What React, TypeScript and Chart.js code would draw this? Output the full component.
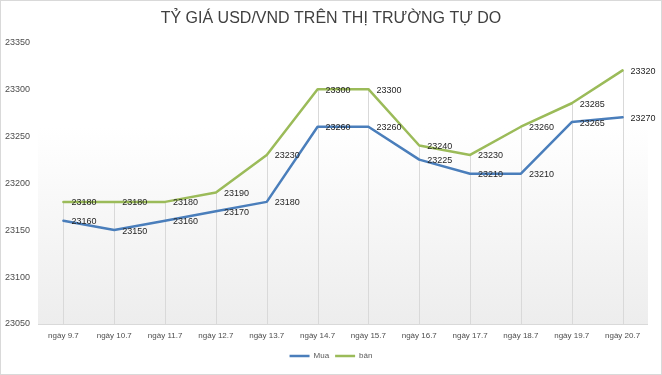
import React, { useEffect, useRef } from "react";
import { Chart, registerables } from "chart.js";

Chart.register(...registerables);

const titleText = "TỶ GIÁ USD/VND TRÊN THỊ TRƯỜNG TỰ DO";
const categories = [
  "ngày 9.7",
  "ngày 10.7",
  "ngày 11.7",
  "ngày 12.7",
  "ngày 13.7",
  "ngày 14.7",
  "ngày 15.7",
  "ngày 16.7",
  "ngày 17.7",
  "ngày 18.7",
  "ngày 19.7",
  "ngày 20.7",
];
const muaValues = [23160, 23150, 23160, 23170, 23180, 23260, 23260, 23225, 23210, 23210, 23265, 23270];
const banValues = [23180, 23180, 23180, 23190, 23230, 23300, 23300, 23240, 23230, 23260, 23285, 23320];
const yMin = 23050;
const yMax = 23350;
const yStep = 50;

const FONT = "'Liberation Sans', Arial, sans-serif";

const plotBgPlugin = {
  id: "plotBg",
  beforeDraw(chart: any) {
    const { ctx, chartArea } = chart;
    const { left, top, right, bottom } = chartArea;
    const g = ctx.createLinearGradient(0, top, 0, bottom);
    g.addColorStop(0, "#ffffff");
    g.addColorStop(0.3, "#ffffff");
    g.addColorStop(1, "#ededed");
    ctx.save();
    ctx.fillStyle = g;
    ctx.fillRect(left, top, right - left, bottom - top);
    ctx.restore();
  },
};

const dropLinesPlugin = {
  id: "dropLines",
  beforeDatasetsDraw(chart: any) {
    const { ctx, chartArea, scales } = chart;
    const xs = scales.x;
    const ys = scales.y;
    ctx.save();
    ctx.strokeStyle = "#d9d9d9";
    ctx.lineWidth = 1;
    categories.forEach((_, i) => {
      const maxV = Math.max(...chart.data.datasets.map((d: any) => d.data[i]));
      const x = Math.round(xs.getPixelForValue(i)) + 0.5;
      const y = ys.getPixelForValue(maxV);
      ctx.beginPath();
      ctx.moveTo(x, y);
      ctx.lineTo(x, chartArea.bottom);
      ctx.stroke();
    });
    ctx.beginPath();
    const by = Math.round(chartArea.bottom) + 0.5;
    ctx.moveTo(chartArea.left, by);
    ctx.lineTo(chartArea.right, by);
    ctx.stroke();
    ctx.restore();
  },
};

const dataLabelsPlugin = {
  id: "dataLabels",
  afterDatasetsDraw(chart: any) {
    const { ctx } = chart;
    ctx.save();
    ctx.font = `9px ${FONT}`;
    ctx.fillStyle = "#262626";
    ctx.textAlign = "left";
    ctx.textBaseline = "middle";
    chart.data.datasets.forEach((ds: any, di: number) => {
      const meta = chart.getDatasetMeta(di);
      meta.data.forEach((pt: any, i: number) => {
        ctx.fillText(String(ds.data[i]), pt.x + 8, pt.y + 1);
      });
    });
    ctx.restore();
  },
};

const borderPlugin = {
  id: "outerBorder",
  afterDraw(chart: any) {
    const { ctx, width, height } = chart;
    ctx.save();
    ctx.strokeStyle = "#d9d9d9";
    ctx.lineWidth = 1;
    ctx.strokeRect(0.5, 0.5, width - 1, height - 1);
    ctx.restore();
  },
};

export default function App() {
  const ref = useRef<HTMLCanvasElement | null>(null);
  useEffect(() => {
    if (!ref.current) return;
    const chart = new Chart(ref.current, {
      type: "line",
      data: {
        labels: categories,
        datasets: [
          {
            label: "Mua",
            data: muaValues,
            borderColor: "#4a7ebb",
            backgroundColor: "#4a7ebb",
            borderWidth: 2.5,
            pointRadius: 0,
            tension: 0,
            borderCapStyle: "round",
            borderJoinStyle: "round",
          },
          {
            label: "bán",
            data: banValues,
            borderColor: "#9bbb59",
            backgroundColor: "#9bbb59",
            borderWidth: 2.5,
            pointRadius: 0,
            tension: 0,
            borderCapStyle: "round",
            borderJoinStyle: "round",
          },
        ],
      },
      options: {
        responsive: false,
        animation: false,
        layout: { padding: { left: 0, right: 0, top: 0, bottom: 5 } },
        plugins: {
          title: {
            display: true,
            text: titleText,
            color: "#404040",
            font: { family: FONT, size: 16, weight: "normal", lineHeight: 1.2 },
            padding: { top: 9, bottom: 14 },
          },
          legend: {
            display: true,
            position: "bottom",
            labels: {
              usePointStyle: true,
              pointStyle: "line",
              pointStyleWidth: 20,
              boxHeight: 8,
              padding: 6,
              color: "#595959",
              font: { family: FONT, size: 8 },
            },
          },
          tooltip: { enabled: false },
        },
        scales: {
          x: {
            offset: true,
            grid: { display: false, drawTicks: false },
            border: { display: false },
            ticks: {
              color: "#4d4d4d",
              font: { family: FONT, size: 8 },
              padding: 7,
              maxRotation: 0,
              autoSkip: false,
            },
            afterFit(scale: any) {
              scale.height = 22;
            },
          },
          y: {
            min: yMin,
            max: yMax,
            grid: { display: false, drawTicks: false },
            border: { display: false },
            ticks: {
              stepSize: yStep,
              color: "#4d4d4d",
              font: { family: FONT, size: 9 },
              padding: 8,
              callback: (v: any) => String(v),
            },
            afterFit(scale: any) {
              scale.width = 38;
            },
          },
          yRight: {
            position: "right",
            min: yMin,
            max: yMax,
            display: true,
            grid: { display: false, drawTicks: false },
            border: { display: false },
            ticks: { display: false },
            afterFit(scale: any) {
              scale.width = 14;
            },
          },
        },
      },
      plugins: [plotBgPlugin, dropLinesPlugin, dataLabelsPlugin, borderPlugin],
    });
    return () => chart.destroy();
  }, []);
  return (
    <div style={{ position: "absolute", left: 0, top: 0, width: 662, height: 375, background: "#fff" }}>
      <canvas ref={ref} width={662} height={375} style={{ display: "block" }} />
    </div>
  );
}
